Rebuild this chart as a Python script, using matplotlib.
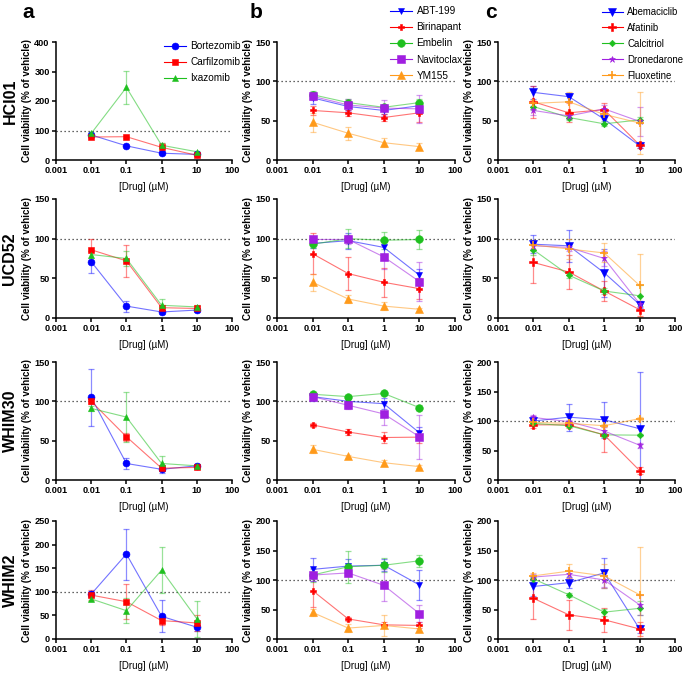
import numpy as np
import matplotlib
matplotlib.use("Agg")
import matplotlib.pyplot as plt

plt.rcParams['font.family'] = ['Liberation Sans', 'DejaVu Sans']

# Data
conc = [0.01, 0.1, 1, 10]
models = ['HCI01', 'UCD52', 'WHIM30', 'WHIM2']

drugs_a = ['Bortezomib', 'Carfilzomib', 'Ixazomib']
drugs_b = ['ABT-199', 'Birinapant', 'Embelin', 'Navitoclax', 'YM155']
drugs_c = ['Abemaciclib', 'Afatinib', 'Calcitriol', 'Dronedarone', 'Fluoxetine']

# panel a: proteasome inhibitors
hci01_a = [[85, 48, 23, 19], [78, 79, 43, 16], [90, 246, 50, 28]]
hci01_a_err = [[5, 4, 3, 3], [5, 4, 15, 3], [5, 55, 6, 4]]
ucd52_a = [[71, 15, 7.6, 10], [86, 72, 13, 12], [80, 75, 16, 14]]
ucd52_a_err = [[14, 7, 2, 3], [14, 20, 4, 3], [5, 10, 8, 2]]
whim30_a = [[105, 21, 13.6, 18], [100, 55, 15, 16], [91, 80, 21, 18]]
whim30_a_err = [[36, 7, 5, 2], [4, 5, 2, 2], [3, 32, 9, 2]]
whim2_a = [[95, 180, 48, 25], [93, 79, 39, 34], [85, 60, 146, 43]]
whim2_a_err = [[6, 54, 34, 8], [10, 37, 10, 16], [5, 26, 48, 38]]

# panel b
hci01_b = [[79, 68, 63, 69], [63, 60, 54, 60], [83, 73, 67, 73], [81, 70, 66, 65], [48, 34, 22, 17]]
hci01_b_err = [[8, 5, 5, 5], [6, 4, 4, 12], [5, 4, 3, 4], [5, 8, 10, 18], [12, 8, 6, 4]]
ucd52_b = [[94, 97.5, 89, 54], [81, 56, 45, 37], [93, 100, 98, 99], [99, 99, 77, 46], [45, 24, 15, 11]]
ucd52_b_err = [[6, 10, 8, 8], [26, 21, 18, 13], [5, 12, 11, 12], [4, 6, 15, 25], [11, 5, 5, 2]]
whim30_b = [[106, 100, 97, 60], [70, 61, 54, 54.5], [109, 106, 110, 92], [106, 95, 84, 55], [39, 30, 22, 17]]
whim30_b_err = [[5, 4, 7, 7], [2, 4, 7, 8], [2, 2, 2, 3], [3, 5, 14, 28], [5, 2, 4, 2]]
whim2_b = [[118, 123.6, 125, 91.6], [82, 34, 24, 23], [108.4, 122.5, 125, 132.6], [108.4, 112, 91, 43], [45, 18.5, 23, 17]]
whim2_b_err = [[20, 12, 10, 25], [27, 3, 5, 5], [12, 27, 12, 10], [10, 6, 27, 15], [6, 7, 18, 5]]

# panel c
hci01_c = [[86, 80.5, 52, 18], [74, 60, 64, 19], [68, 54, 46, 51], [63, 56, 65, 49], [72, 74, 58, 47]]
hci01_c_err = [[8, 5, 5, 3], [20, 12, 9, 4], [4, 3, 3, 4], [6, 4, 5, 18], [4, 12, 6, 40]]
ucd52_c = [[93, 91, 57, 17], [70, 58, 34, 10.5], [86, 54, 34, 28], [91, 89, 75, 18], [92, 87, 82, 41]]
ucd52_c_err = [[11, 20, 30, 5], [26, 22, 13, 8], [6, 4, 4, 13], [4, 4, 10, 4], [6, 13, 12, 40]]
whim30_c = [[100, 106.5, 102, 87], [93.5, 93.5, 76.5, 16], [96, 92, 76.5, 76], [106, 99, 83, 59], [97.5, 96, 92, 104]]
whim30_c_err = [[6, 23, 31, 96], [5, 5, 29, 6], [3, 3, 3, 2], [4, 3, 6, 4], [3, 3, 3, 3]]
whim2_c = [[89, 95.5, 112, 17], [69, 41, 32.6, 17], [102, 75, 45.5, 52], [105, 109.6, 100, 58], [107, 115, 107, 75]]
whim2_c_err = [[16, 9, 26, 6], [35, 25, 20, 12], [5, 3, 6, 12], [5, 7, 12, 17], [5, 12, 20, 81]]

ymax_list = [[400, 150, 150], [150, 150, 150], [150, 150, 200], [250, 200, 200]]
ystep_list = [[100, 50, 50], [50, 50, 50], [50, 50, 50], [50, 50, 50]]

means = [[hci01_a, hci01_b, hci01_c], [ucd52_a, ucd52_b, ucd52_c],
         [whim30_a, whim30_b, whim30_c], [whim2_a, whim2_b, whim2_c]]
errs = [[hci01_a_err, hci01_b_err, hci01_c_err], [ucd52_a_err, ucd52_b_err, ucd52_c_err],
        [whim30_a_err, whim30_b_err, whim30_c_err], [whim2_a_err, whim2_b_err, whim2_c_err]]
drug_lists = [drugs_a, drugs_b, drugs_c]

blue, red, green, purple, orange = '#0000FF', '#FF0000', '#1FC01F', '#A01FE0', '#FF9A1A'
styles = [
    [(blue, 'o', 5), (red, 's', 5), (green, '^', 5)],
    [(blue, 'v', 5), (red, 'P', 4), (green, 'o', 5.5), (purple, 's', 5.5), (orange, '^', 5.5)],
    [(blue, 'v', 6), (red, 'P', 5.5), (green, 'D', 3.3), (purple, '*', 5), (orange, '+', 6)],
]

W, H = 685, 675
fig = plt.figure(figsize=(6.85, 6.75), dpi=100)

col_lr = [(56, 232), (277, 455), (498, 675)]
row_tb = [(42, 160), (199, 318), (362, 480), (521, 639)]

xt = [0.001, 0.01, 0.1, 1, 10, 100]
xtl = ['0.001', '0.01', '0.1', '1', '10', '100']

for r in range(4):
    for c in range(3):
        l, rr = col_lr[c]
        t, b = row_tb[r]
        ax = fig.add_axes([l / W, 1 - b / H, (rr - l) / W, (b - t) / H])
        ax.set_xscale('log')
        ax.set_xlim(0.001, 100)
        ymax = ymax_list[r][c]
        ax.set_ylim(0, ymax)
        ax.axhline(100, color='#333333', ls=(0, (1, 2.2)), lw=0.9, zorder=1)
        for k, name in enumerate(drug_lists[c]):
            col, mk, ms = styles[c][k]
            ax.errorbar(conc, means[r][c][k], yerr=errs[r][c][k], fmt='none',
                        ecolor=col, alpha=0.45, elinewidth=0.9, capsize=2.5, capthick=0.9, zorder=2)
            ax.plot(conc, means[r][c][k], color=col, alpha=0.55, lw=0.8, zorder=3)
            ax.plot(conc, means[r][c][k], ls='none', marker=mk, ms=ms, color=col,
                    mew=1.2 if mk == '+' else 0.4, zorder=4)
        ax.set_xticks(xt)
        ax.set_xticklabels(xtl)
        ax.minorticks_off()
        ax.set_yticks(np.arange(0, ymax + 1, ystep_list[r][c]))
        for s in ['top', 'right']:
            ax.spines[s].set_visible(False)
        for s in ['left', 'bottom']:
            ax.spines[s].set_linewidth(1.1)
        ax.tick_params(width=1.1, length=3, labelsize=6.6, pad=1.5)
        for lab in ax.get_xticklabels() + ax.get_yticklabels():
            lab.set_fontweight('bold')
        ax.set_ylabel('Cell viability (% of vehicle)', fontsize=7, fontweight='bold', labelpad=2)
        ax.set_xlabel('[Drug] (\u00b5M)', fontsize=7, labelpad=5)

        if r == 0:
            handles = []
            for k, name in enumerate(drug_lists[c]):
                col, mk, ms = styles[c][k]
                h, = ax.plot([], [], color=col, marker=mk, ms=ms, lw=0.8,
                             mew=1.2 if mk == '+' else 0.4, label=name)
                handles.append(h)
            anchors = [(161, 38), (387, 3), (599, 4)]
            fsizes = [7.2, 7.2, 6.9]
            ax_x, ax_y = anchors[c]
            fig.legend(handles=handles, loc='upper left', bbox_to_anchor=(ax_x / W, 1 - ax_y / H),
                       frameon=False, fontsize=fsizes[c], handlelength=2.2, handletextpad=0.45,
                       labelspacing=0.62, borderaxespad=0, borderpad=0.3)

for r in range(4):
    t, b = row_tb[r]
    fig.text(10 / W, 1 - (t + b) / 2 / H, models[r], rotation=90, ha='center', va='center',
             fontsize=11.5, fontweight='bold')

for letter, x in zip(['a', 'b', 'c'], [28, 256, 491]):
    fig.text(x / W, 1 - 13 / H, letter, ha='center', va='center', fontsize=15, fontweight='bold')

fig.savefig('out.png', dpi=100)
